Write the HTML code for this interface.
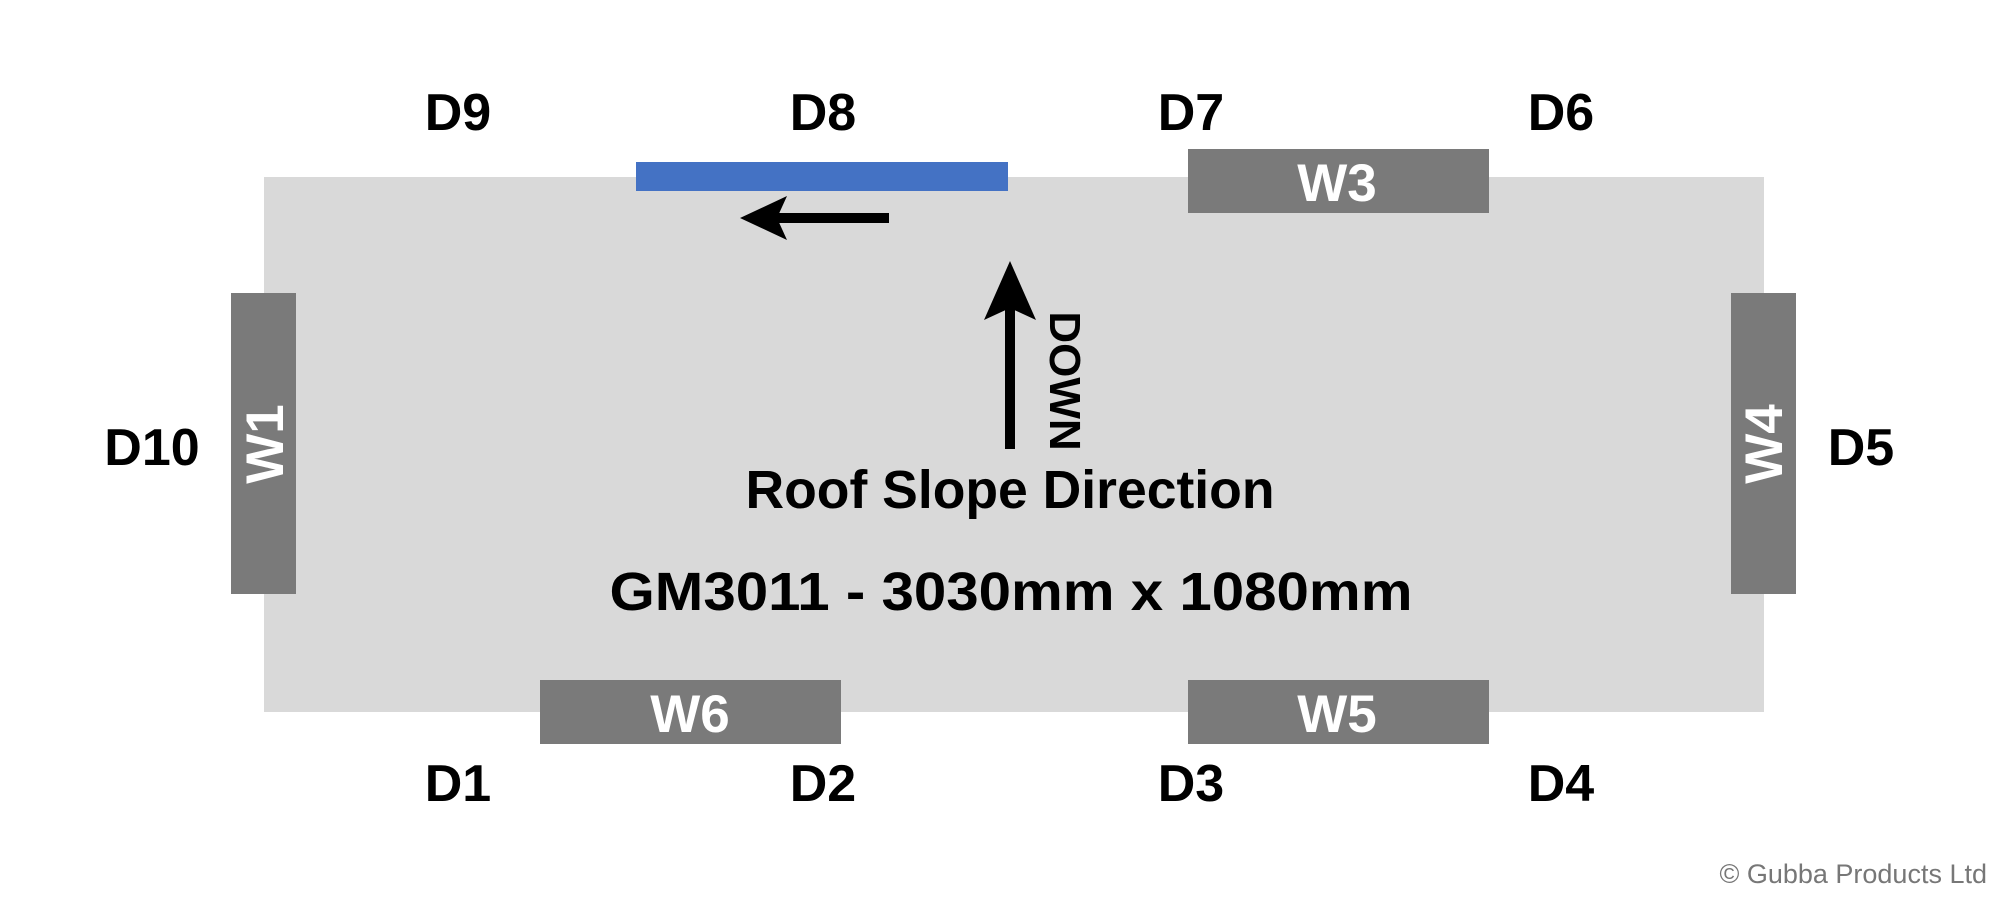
<!DOCTYPE html>
<html><head><meta charset="utf-8"><style>html,body{margin:0;padding:0;background:#fff}svg{display:block}</style></head>
<body>
<svg width="2000" height="900" viewBox="0 0 2000 900" xmlns="http://www.w3.org/2000/svg" font-family="Liberation Sans, sans-serif">
<rect width="2000" height="900" fill="#fff"/>
<rect x="264" y="177" width="1500" height="535" fill="#d9d9d9"/>
<rect x="636" y="162" width="372" height="29" fill="#4472c4"/>
<g fill="#7a7a7a">
<rect x="1188" y="149" width="301" height="64"/>
<rect x="540" y="680" width="301" height="64"/>
<rect x="1188" y="680" width="301" height="64"/>
<rect x="231" y="293" width="65" height="301"/>
<rect x="1731" y="293" width="65" height="301"/>
</g>
<g fill="#fff" font-weight="bold" font-size="53" text-anchor="middle">
<text x="1337" y="201">W3</text>
<text x="690" y="732">W6</text>
<text x="1337" y="732">W5</text>
<text transform="translate(283,444) rotate(-90)" y="0">W1</text>
<text transform="translate(1782,444) rotate(-90)" y="0">W4</text>
</g>
<g fill="#000" font-weight="bold" font-size="52" text-anchor="middle">
<text x="458" y="130">D9</text>
<text x="823" y="130">D8</text>
<text x="1191" y="130">D7</text>
<text x="1561" y="130">D6</text>
<text x="458" y="801">D1</text>
<text x="823" y="801">D2</text>
<text x="1191" y="801">D3</text>
<text x="1561" y="801">D4</text>
<text x="152" y="465">D10</text>
<text x="1861" y="465">D5</text>
</g>
<rect x="760" y="213" width="129" height="10" fill="#000"/>
<polygon points="740,218 787,196 777,218 787,240" fill="#000"/>
<rect x="1005" y="300" width="10" height="149" fill="#000"/>
<polygon points="1010,261 1036,320 1010,308 984,320" fill="#000"/>
<text transform="translate(1050,381) rotate(90)" text-anchor="middle" font-size="44" font-weight="bold" fill="#000">DOWN</text>
<text x="1010" y="508" text-anchor="middle" font-size="54" font-weight="bold" fill="#000" textLength="529" lengthAdjust="spacingAndGlyphs">Roof Slope Direction</text>
<text x="1011" y="610" text-anchor="middle" font-size="54" font-weight="bold" fill="#000" textLength="803" lengthAdjust="spacingAndGlyphs">GM3011 - 3030mm x 1080mm</text>
<text x="1987" y="883" text-anchor="end" font-size="27" fill="#777">© Gubba Products Ltd</text>
</svg>
</body></html>
